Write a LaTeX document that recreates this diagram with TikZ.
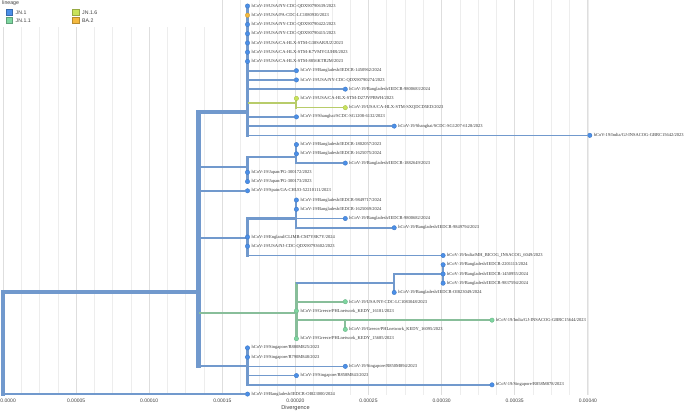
\documentclass[tikz,border=0pt]{standalone}
\usepackage{fontspec}
\setmainfont{Liberation Serif}
\setsansfont{Liberation Sans}

\definecolor{jnblue}{HTML}{4B8FE8}
\definecolor{jnbranch}{HTML}{7199CD}
\definecolor{jngreen}{HTML}{7ED6A0}
\definecolor{grbranch}{HTML}{88BE9A}
\definecolor{jnlime}{HTML}{C9E35B}
\definecolor{limebranch}{HTML}{B8CC6A}
\definecolor{baorange}{HTML}{F4B93E}

\pgfdeclarelayer{grid}
\pgfdeclarelayer{branches}
\pgfsetlayers{grid,branches,main}

\tikzset{
  br/.style={line width={(1.2+3.1*sqrt(#1/43))*1pt}},
  vline/.style={br=#1, line cap=rect},
  leafdot/.style={circle, inner sep=0pt, minimum size=4.4pt, line width=0.4pt},
  taxon/.style={anchor=west, inner sep=0pt, text=black!80,
    font=\fontsize{4.5}{5}\selectfont},
  gridminor/.style={draw=black!7, line width=0.6pt},
  gridmajor/.style={draw=black!13, line width=0.8pt},
  ticklabel/.style={inner sep=0pt, text=black!75, font=\sffamily\fontsize{5}{6}\selectfont},
  legbox/.style={draw=#1!75!black, fill=#1, line width=0.5pt, minimum size=6.5pt, inner sep=0pt},
  legtext/.style={anchor=west, inner sep=0pt, text=black!75, font=\sffamily\fontsize{5.2}{6}\selectfont}
}

% tip: name, mutations from root, row, colour, label
\newcommand{\addtip}[5]{%
  \node[leafdot, fill=#4, draw=#4!85!black] (#1) at ({3+48.9*#2},{6+9.24*(#3-1)}) {};
  \node[taxon] at ([xshift=1.5pt]#1.east) {#5};}

\begin{document}
\begin{tikzpicture}[x=1pt,y=-1pt]
\useasboundingbox (0,0) rectangle (685,412);

% grid and axis
\begin{pgfonlayer}{grid}
  \foreach \i in {0,...,32}
    \draw[gridminor] ({3+18.275*\i},0) -- ({3+18.275*\i},395);
  \foreach \i in {0,...,8}
    \draw[gridmajor] ({3+73.1*\i},0) -- ({3+73.1*\i},395);
  \fill[white] (0,0) rectangle (215,27);
\end{pgfonlayer}
\node[ticklabel, anchor=west] (tick0) at (0.3,400.5) {0.0000};
\foreach \v [count=\i] in {0.00005,0.00010,0.00015,0.00020,0.00025,0.00030,0.00035,0.00040}
  \node[ticklabel] (tick\i) at ({3+73.1*\i},400.5) {\v};
\node[ticklabel, font=\sffamily\fontsize{5.6}{6}\selectfont] (xlabel) at (295.5,408.5) {Divergence};

% legend
\node[legtext, font=\sffamily\fontsize{5.2}{6}\selectfont] (legtitle) at (2,3.5) {lineage};
\node[legbox=jnblue] (key1) at (9,12.3) {};
\node[legtext] at ([xshift=3pt]key1.east) {JN.1};
\node[legbox=jngreen] (key2) at (9,20.3) {};
\node[legtext] at ([xshift=3pt]key2.east) {JN.1.1};
\node[legbox=jnlime] (key3) at (75.5,12.3) {};
\node[legtext] at ([xshift=3pt]key3.east) {JN.1.6};
\node[legbox=baorange] (key4) at (75.5,20.3) {};
\node[legtext] at ([xshift=3pt]key4.east) {BA.2};

% tips
\addtip{t1}{5}{1}{jnblue}{hCoV-19/USA/NY-CDC-QDX90790639/2023}
\addtip{t2}{5}{2}{baorange}{hCoV-19/USA/PA-CDC-LC1080930/2023}
\addtip{t3}{5}{3}{jnblue}{hCoV-19/USA/NY-CDC-QDX90790422/2023}
\addtip{t4}{5}{4}{jnblue}{hCoV-19/USA/NY-CDC-QDX90790415/2023}
\addtip{t5}{5}{5}{jnblue}{hCoV-19/USA/CA-HLX-STM-G38SARJUZ/2023}
\addtip{t6}{5}{6}{jnblue}{hCoV-19/USA/CA-HLX-STM-K7VMYGUHR/2023}
\addtip{t7}{5}{7}{jnblue}{hCoV-19/USA/CA-HLX-STM-8856KTR2M/2023}
\addtip{t8}{6}{8}{jnblue}{hCoV-19/Bangladesh/IEDCR-1450962/2024}
\addtip{t9}{6}{9}{jnblue}{hCoV-19/USA/NY-CDC-QDX90790274/2023}
\addtip{t10}{7}{10}{jnblue}{hCoV-19/Bangladesh/IEDCR-9800683/2024}
\addtip{t11}{6}{11}{jnlime}{hCoV-19/USA/CA-HLX-STM-D27JVPBWH/2023}
\addtip{t12}{7}{12}{jnlime}{hCoV-19/USA/CA-HLX-STM-SXQDCD5ED/2023}
\addtip{t13}{6}{13}{jnblue}{hCoV-19/Shanghai/SCDC-SG1208-6132/2023}
\addtip{t14}{8}{14}{jnblue}{hCoV-19/Shanghai/SCDC-SG1207-6128/2023}
\addtip{t15}{12}{15}{jnblue}{hCoV-19/India/GJ-INSACOG-GBRC15642/2023}
\addtip{t16}{6}{16}{jnblue}{hCoV-19/Bangladesh/IEDCR-1802057/2023}
\addtip{t17}{6}{17}{jnblue}{hCoV-19/Bangladesh/IEDCR-1625075/2024}
\addtip{t18}{7}{18}{jnblue}{hCoV-19/Bangladesh/IEDCR-1882649/2023}
\addtip{t19}{5}{19}{jnblue}{hCoV-19/Japan/PG-300172/2023}
\addtip{t20}{5}{20}{jnblue}{hCoV-19/Japan/PG-300173/2023}
\addtip{t21}{5}{21}{jnblue}{hCoV-19/Spain/GA-CHUO-52210111/2023}
\addtip{t22}{6}{22}{jnblue}{hCoV-19/Bangladesh/IEDCR-9849717/2024}
\addtip{t23}{6}{23}{jnblue}{hCoV-19/Bangladesh/IEDCR-1625069/2024}
\addtip{t24}{7}{24}{jnblue}{hCoV-19/Bangladesh/IEDCR-9800682/2024}
\addtip{t25}{8}{25}{jnblue}{hCoV-19/Bangladesh/IEDCR-9849794/2023}
\addtip{t26}{5}{26}{jnblue}{hCoV-19/England/CLIMB-CM7Y8K7Y/2024}
\addtip{t27}{5}{27}{jnblue}{hCoV-19/USA/NJ-CDC-QDX90793602/2023}
\addtip{t28}{9}{28}{jnblue}{hCoV-19/India/MH\_BICOG\_INSACOG\_6049/2023}
\addtip{t29}{9}{29}{jnblue}{hCoV-19/Bangladesh/IEDCR-2201113/2024}
\addtip{t30}{9}{30}{jnblue}{hCoV-19/Bangladesh/IEDCR-1450955/2024}
\addtip{t31}{9}{31}{jnblue}{hCoV-19/Bangladesh/IEDCR-9837594/2024}
\addtip{t32}{8}{32}{jnblue}{hCoV-19/Bangladesh/IEDCR-OI823049/2024}
\addtip{t33}{7}{33}{jngreen}{hCoV-19/USA/NY-CDC-LC1083048/2023}
\addtip{t34}{6}{34}{jngreen}{hCoV-19/Greece/PHLnetwork\_KEDY\_16181/2023}
\addtip{t35}{10}{35}{jngreen}{hCoV-19/India/GJ-INSACOG-GBRC15644/2023}
\addtip{t36}{7}{36}{jngreen}{hCoV-19/Greece/PHLnetwork\_KEDY\_16095/2023}
\addtip{t37}{6}{37}{jngreen}{hCoV-19/Greece/PHLnetwork\_KEDY\_15685/2023}
\addtip{t38}{5}{38}{jnblue}{hCoV-19/Singapore/R880M825/2023}
\addtip{t39}{5}{39}{jnblue}{hCoV-19/Singapore/R790M848/2023}
\addtip{t40}{7}{40}{jnblue}{hCoV-19/Singapore/R850M894/2023}
\addtip{t41}{6}{41}{jnblue}{hCoV-19/Singapore/R858M843/2023}
\addtip{t42}{10}{42}{jnblue}{hCoV-19/Singapore/R858M878/2023}
\addtip{t43}{5}{43}{jnblue}{hCoV-19/Bangladesh/IEDCR-OI823000/2024}

% internal nodes
\coordinate (root) at (3,343);
\coordinate (n4) at (198.6,292);
\coordinate (c1) at (247.5,112);
\coordinate (y6) at (296.4,103);
\coordinate (b) at (247.5,167);
\coordinate (b1) at (296.4,157);
\coordinate (c) at (247.5,238);
\coordinate (c2) at (t22 |- t24);
\coordinate (g) at (296.4,313);
\coordinate (h) at (394.2,283.2);
\coordinate (k) at (t29 |- t30);
\coordinate (l) at (t36 |- t35);
\coordinate (sg) at (t38 |- t40);

\begin{pgfonlayer}{branches}
\begin{scope}[draw=jnbranch]
  \draw[vline=43] (root |- n4) -- (root |- t43);
  \draw[br=42] (root |- n4) -- (n4);
  \draw[br=1] (root |- t43) -- (t43);
  \draw[vline=42] (n4 |- c1) -- (n4 |- sg);
  \draw[br=15] (n4 |- c1) -- (c1);
  \draw[br=5] (n4 |- b) -- (b);
  \draw[br=1] (n4 |- t21) -- (t21);
  \draw[br=7] (n4 |- c) -- (c);
  \draw[br=5] (n4 |- sg) -- (sg);
  % first clade
  \draw[vline=15] (c1 |- t1) -- (c1 |- t15);
  \foreach \t in {t8,t9,t10,t13,t14,t15}
    \draw[br=1] (c1 |- \t) -- (\t);
  % Bangladesh and Japan
  \draw[vline=5] (b |- b1) -- (b |- t20);
  \draw[br=3] (b |- b1) -- (b1);
  \draw[vline=3] (b1 |- t16) -- (b1 |- t18);
  \draw[br=1] (b1 |- t18) -- (t18);
  \draw[vline=7] (c |- c2) -- (c |- t28);
  \draw[br=4] (c |- c2) -- (c2);
  \draw[vline=4] (c2 |- t22) -- (c2 |- t25);
  \draw[br=1] (c2 |- t24) -- (t24);
  \draw[br=1] (c2 |- t25) -- (t25);
  \draw[br=1] (c |- t28) -- (t28);
  % Singapore
  \draw[vline=5] (sg |- t38) -- (sg |- t42);
  \foreach \t in {t40,t41,t42}
    \draw[br=1] (sg |- \t) -- (\t);
\end{scope}
% JN.1.6
\draw[br=2, limebranch] (c1 |- y6) -- (y6);
\draw[vline=2, limebranch] (y6 |- t11) -- (y6 |- t12);
\draw[br=1, limebranch] (y6 |- t12) -- (t12);
% JN.1.1
\draw[br=9, grbranch] (n4 |- g) -- (g);
\draw[vline=9, grbranch] (g |- h) -- (g |- t37);
\draw[br=4, jnbranch] (g |- h) -- (h);
\draw[vline=4, jnbranch] (h |- k) -- (h |- t32);
\draw[br=3, jnbranch] (h |- k) -- (k);
\draw[vline=3, jnbranch] (k |- t29) -- (k |- t31);
\draw[br=1, grbranch] (g |- t33) -- (t33);
\draw[br=2, grbranch] (g |- l) -- (l);
\draw[vline=2, grbranch] (l) -- (l |- t36);
\draw[br=1, grbranch] (l) -- (t35);
\end{pgfonlayer}
\end{tikzpicture}
\end{document}
